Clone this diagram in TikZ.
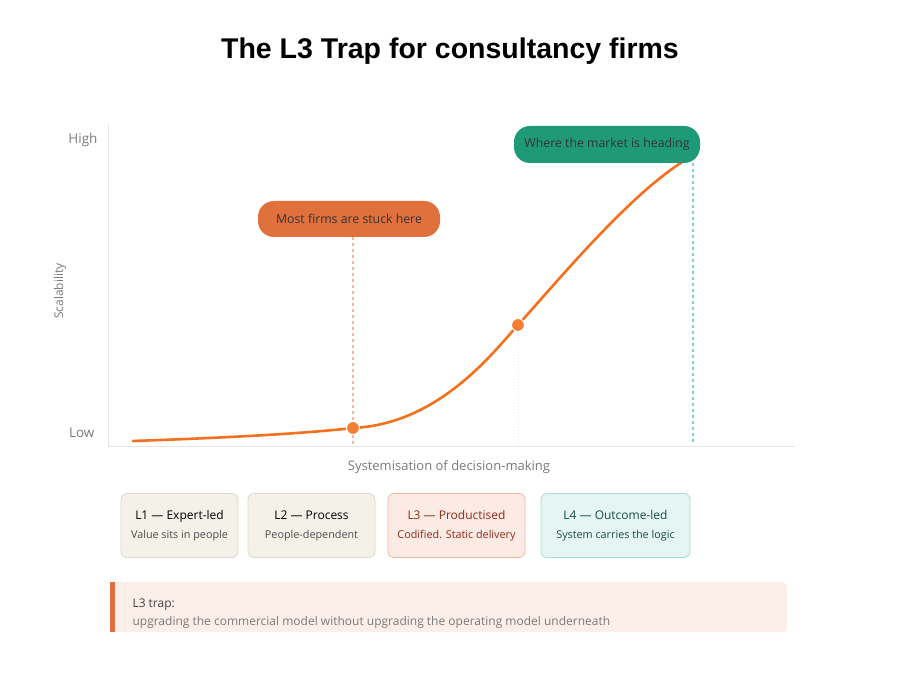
\documentclass[tikz,border=0pt]{standalone}
\usepackage{fontspec}
\setmainfont{Open Sans}
\newfontfamily\titlefont{Liberation Sans}
\usepackage{tikz}
\usetikzlibrary{positioning}
\newcommand{\levelsub}{\fontsize{10.8}{13}\selectfont}

\begin{document}
\begin{tikzpicture}[x=1pt, y=-1pt, font=\fontsize{12}{14}\selectfont]
\definecolor{curveorange}{HTML}{F4701F}
\definecolor{pillorange}{HTML}{E0703C}
\definecolor{pillteal}{HTML}{1E9A78}
\definecolor{guideorange}{HTML}{F8B49A}
\definecolor{guideteal}{HTML}{80D6C0}
\definecolor{axisgray}{HTML}{E6E6E6}
\definecolor{labelgray}{HTML}{7A7A7A}
\definecolor{sandfill}{HTML}{F4F1E9}
\definecolor{sandline}{HTML}{DDD8CC}
\definecolor{peachfill}{HTML}{FCEBE4}
\definecolor{peachline}{HTML}{F4B79E}
\definecolor{mintfill}{HTML}{E5F5F3}
\definecolor{mintline}{HTML}{A6DED8}
\definecolor{rusttext}{HTML}{8E2A1A}
\definecolor{deeptealtext}{HTML}{174A48}
\definecolor{bannerfill}{HTML}{FCEFE9}
\tikzset{
    axis line/.style={axisgray, line width=1pt},
    axis label/.style={labelgray, font=\fontsize{13.5}{15}\selectfont},
    guide/.style={dashed, line width=1.2pt, dash pattern=on 3pt off 3pt},
    curve/.style={curveorange, line width=2.6pt, line cap=round},
    dot/.style={circle, fill=curveorange!90!white, draw=white, line width=1pt, minimum size=13pt, inner sep=0pt},
    pill/.style={rounded corners=16pt, minimum height=36pt, inner sep=0pt, text=black!80, font=\fontsize{12.3}{15}\selectfont},
    level box/.style={draw, rounded corners=6pt, line width=0.8pt, minimum height=64pt, inner sep=0pt, align=center, font=\fontsize{12}{14}\selectfont},
}
\useasboundingbox[fill=white] (0,0) rectangle (900,700);
% Title
\node[font=\titlefont\bfseries\fontsize{28.5}{32}\selectfont] (title) at (450,51) {The L3 Trap for consultancy firms};
% Axes
\coordinate (ytop) at (108,125);
\coordinate (origin) at (108,447);
\coordinate (xend) at (795,447);
\draw[axis line] (ytop) -- (origin) -- (xend);
\node[axis label, anchor=east] (high) at (101,140) {High};
\node[axis label, anchor=east] (low) at (98,433) {Low};
\node[axis label, rotate=90, font=\fontsize{12}{13}\selectfont] (yname) at (60,291) {Scalability};
\node[axis label, font=\fontsize{13}{15}\selectfont] (xname) at (449,467) {Systemisation of decision-making};
% Callouts
\node[pill, fill=pillorange, minimum width=182pt] (stuck pill) at (349,219) {Most firms are stuck here};
\coordinate (stuck foot) at (353,446);
\coordinate (mid foot) at (518,446);
\coordinate (heading foot) at (693,443);
\draw[guide, guideorange] (stuck foot |- stuck pill.south) -- (stuck foot);
% S-curve
\coordinate (p0) at (133,441);
\coordinate (p1) at (353,428);
\coordinate (p2) at (518,325);
\coordinate (p3) at (692,156);
\draw[dotted, axisgray, line width=1pt] (p2) -- (mid foot);
\draw[curve] (p0) .. controls (220,438) and (300,434) .. (p1)
    .. controls (440,424) and (495,350) .. (p2)
    .. controls (563,275) and (635,188) .. (p3);
\node[dot] (stuck dot) at (p1) {};
\node[dot] (mid dot) at (p2) {};
\node[pill, fill=pillteal, minimum width=186pt, minimum height=37pt] (heading pill) at (607,144.5) {Where the market is heading};
\draw[guide, guideteal] (heading foot |- heading pill.south) -- (heading foot);
% Levels
\node[level box, draw=sandline, fill=sandfill, minimum width=117pt] (l1) at (179.5,525.5)
    {L1 --- Expert-led\\[5pt]{\levelsub\color{black!70}Value sits in people}};
\node[level box, draw=sandline, fill=sandfill, minimum width=127pt] (l2) at (311.5,525.5)
    {L2 --- Process\\[5pt]{\levelsub\color{black!70}People-dependent}};
\node[level box, draw=peachline, fill=peachfill, text=rusttext, minimum width=137pt] (l3) at (456.5,525.5)
    {L3 --- Productised\\[5pt]{\levelsub Codified. Static delivery}};
\node[level box, draw=mintline, fill=mintfill, text=deeptealtext, minimum width=149pt] (l4) at (615.5,525.5)
    {L4 --- Outcome-led\\[5pt]{\levelsub System carries the logic}};
% Trap banner
\fill[bannerfill, rounded corners=6pt] (110,582) rectangle (787,632);
\fill[pillorange] (110,582) rectangle (115,632);
\node[anchor=base west, text=black!75, font=\fontsize{12}{14}\selectfont] (trap title) at (129,607) {L3 trap:};
\node[anchor=base west, text=labelgray, font=\fontsize{12}{14}\selectfont] (trap text) at (129,625) {upgrading the commercial model without upgrading the operating model underneath};
\end{tikzpicture}
\end{document}
